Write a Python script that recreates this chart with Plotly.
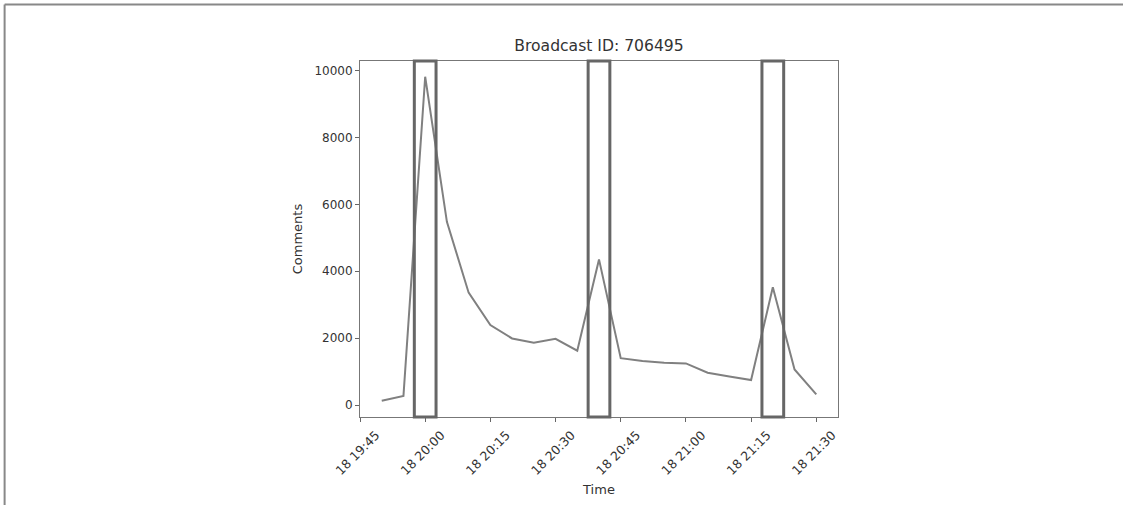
import plotly.graph_objects as go
import pandas as pd

times = ["2023-01-18 19:50", "2023-01-18 19:55", "2023-01-18 20:00", "2023-01-18 20:05",
         "2023-01-18 20:10", "2023-01-18 20:15", "2023-01-18 20:20", "2023-01-18 20:25",
         "2023-01-18 20:30", "2023-01-18 20:35", "2023-01-18 20:40", "2023-01-18 20:45",
         "2023-01-18 20:50", "2023-01-18 20:55", "2023-01-18 21:00", "2023-01-18 21:05",
         "2023-01-18 21:10", "2023-01-18 21:15", "2023-01-18 21:20", "2023-01-18 21:25",
         "2023-01-18 21:30"]
comments = [130, 270, 9820, 5480, 3360, 2390, 1990, 1865, 1980, 1625, 4355, 1400,
            1315, 1265, 1245, 965, 850, 745, 3520, 1065, 320]
highlight_centers = ["2023-01-18 20:00", "2023-01-18 20:40", "2023-01-18 21:20"]
highlight_halfwidth_min = 2.5
tick_times = ["2023-01-18 19:45", "2023-01-18 20:00", "2023-01-18 20:15", "2023-01-18 20:30",
              "2023-01-18 20:45", "2023-01-18 21:00", "2023-01-18 21:15", "2023-01-18 21:30"]
tick_labels = ["18 19:45", "18 20:00", "18 20:15", "18 20:30", "18 20:45",
               "18 21:00", "18 21:15", "18 21:30"]
y_ticks = [0, 2000, 4000, 6000, 8000, 10000]
title = "Broadcast ID: 706495"

fig = go.Figure()
fig.add_trace(go.Scatter(x=times, y=comments, mode="lines",
                         line=dict(color="#808080", width=2), showlegend=False,
                         hoverinfo="skip"))

for c in highlight_centers:
    t = pd.Timestamp(c)
    d = pd.Timedelta(minutes=highlight_halfwidth_min)
    fig.add_shape(type="rect", xref="x", yref="y domain",
                  x0=(t - d).strftime("%Y-%m-%d %H:%M:%S"),
                  x1=(t + d).strftime("%Y-%m-%d %H:%M:%S"),
                  y0=0, y1=1, line=dict(color="#666666", width=3),
                  fillcolor="rgba(0,0,0,0)", layer="above")

# outer frame (top and left edges)
fig.add_shape(type="line", xref="paper", yref="paper", x0=-0.7435, x1=2.0,
              y0=1.159, y1=1.159, line=dict(color="#888888", width=2))
fig.add_shape(type="line", xref="paper", yref="paper", x0=-0.7435, x1=-0.7435,
              y0=1.159, y1=-1.0, line=dict(color="#888888", width=2))

font = "DejaVu Sans, sans-serif"
fig.update_layout(
    width=1123, height=505,
    margin=dict(l=360, r=285, t=61, b=88),
    paper_bgcolor="white", plot_bgcolor="white",
    font=dict(family=font, size=12, color="#333333"),
    title=dict(text=title, x=0.5, xref="paper", xanchor="center",
               y=1 - 46 / 505, yanchor="middle",
               font=dict(size=15.6, color="#333333", family=font)),
)
fig.update_xaxes(
    type="date", automargin=False,
    range=["2023-01-18 19:45", "2023-01-18 21:35"],
    tickvals=tick_times, ticktext=tick_labels, tickangle=-45,
    ticklabelshift=16, ticklabelstandoff=1,
    ticks="outside", ticklen=4, tickcolor="#666666",
    showline=True, linecolor="#777777", linewidth=1, mirror=True,
    showgrid=False, zeroline=False,
    title=dict(text="Time", font=dict(size=13, color="#333333"), standoff=8),
    tickfont=dict(size=12.5),
)
fig.update_yaxes(
    automargin=False,
    range=[-359, 10290],
    tickvals=y_ticks, ticktext=[str(v) for v in y_ticks],
    ticks="outside", ticklen=4, tickcolor="#666666",
    showline=True, linecolor="#777777", linewidth=1, mirror=True,
    showgrid=False, zeroline=False,
    title=dict(text="Comments", font=dict(size=13, color="#333333"), standoff=8),
    tickfont=dict(size=12),
)

fig.write_html("out.html")
